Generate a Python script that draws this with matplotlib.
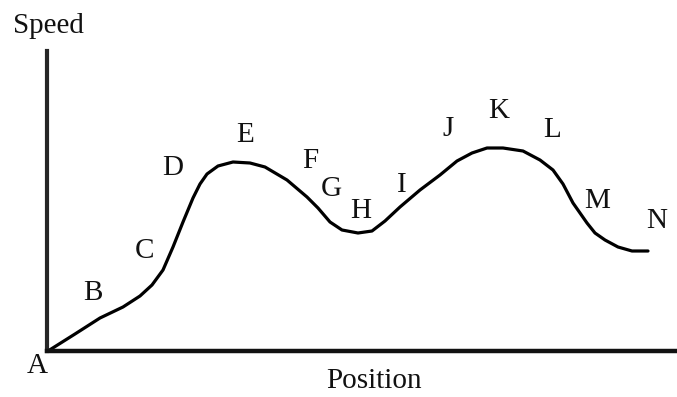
import matplotlib.pyplot as plt

# curve (position, speed) in arbitrary units
position = [1, 28, 53, 76, 93, 105, 116, 126, 136, 146, 153, 160, 171, 186,
            203, 218, 240, 260, 271, 283, 295, 311, 325, 338, 353, 373, 393,
            410, 425, 440, 456, 476, 493, 506, 516, 526, 540, 548, 558, 571,
            585, 601]
speed = [0, 17, 33, 44, 55, 66, 81, 104, 129, 153, 167, 177, 185, 189,
         188, 184, 171, 154, 143, 129, 121, 118, 120, 130, 144, 161, 176,
         190, 198, 203, 203, 200, 191, 181, 167, 148, 128, 118, 111, 104,
         100, 100]

# letter labels along the curve (baseline positions)
point_labels = ["A", "B", "C", "D", "E", "F", "G", "H", "I", "J", "K", "L", "M", "N"]
label_x = [-10, 46, 97, 126, 198, 263, 284, 314, 355, 401, 452, 505, 550, 610]
label_y = [-22, 51, 93, 176, 209, 183, 155, 133, 159, 215, 233, 214, 143, 123]

plt.rcParams["font.family"] = ["Liberation Serif", "DejaVu Serif"]
FS = 21

fig = plt.figure(figsize=(6.77, 3.97), dpi=100)
ax = fig.add_axes([47 / 677, 46 / 397, 630 / 677, 300 / 397])
ax.set_xlim(0, 630)
ax.set_ylim(0, 300)

for side in ("top", "right"):
    ax.spines[side].set_visible(False)
ax.spines["left"].set_linewidth(3.0)
ax.spines["left"].set_color("#262626")
ax.spines["bottom"].set_linewidth(3.2)
ax.spines["bottom"].set_color("#111111")
ax.set_xticks([])
ax.set_yticks([])

ax.plot(position, speed, color="black", linewidth=2.3,
        solid_joinstyle="round", solid_capstyle="round")

for lab, lx, ly in zip(point_labels, label_x, label_y):
    ax.text(lx, ly, lab, ha="center", va="baseline", fontsize=FS,
            color="#111111", clip_on=False)

fig.text(48 / 677, 1 - 33 / 397, "Speed", ha="center", va="baseline",
         fontsize=FS, color="#111111")
fig.text(374 / 677, 1 - 388 / 397, "Position", ha="center", va="baseline",
         fontsize=FS, color="#111111")

fig.savefig("out.png", dpi=100)
